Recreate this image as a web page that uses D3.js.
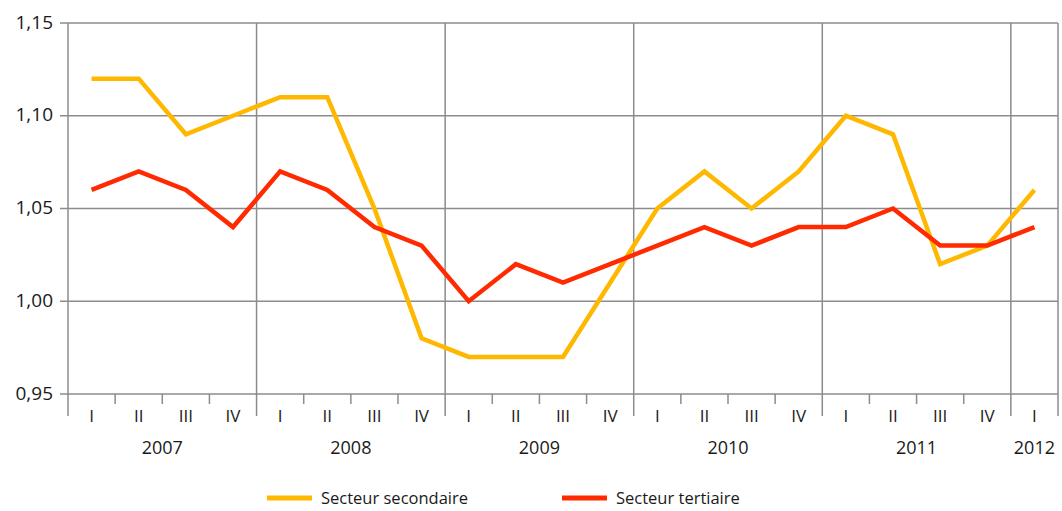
<!DOCTYPE html>
<html>
<head>
<meta charset="utf-8">
<script src="https://cdn.jsdelivr.net/npm/d3@7"></script>
<style>
  body { margin: 0; background: #fff; }
  text { font-family: "Open Sans", "DejaVu Sans", sans-serif; fill: #1a1a1a; }
</style>
</head>
<body>
<div id="chart"></div>
<script>
// Data
const years = ["2007", "2008", "2009", "2010", "2011", "2012"];
const quarters = [
  "2007-I", "2007-II", "2007-III", "2007-IV",
  "2008-I", "2008-II", "2008-III", "2008-IV",
  "2009-I", "2009-II", "2009-III", "2009-IV",
  "2010-I", "2010-II", "2010-III", "2010-IV",
  "2011-I", "2011-II", "2011-III", "2011-IV",
  "2012-I"
];
const secondaire = [1.12, 1.12, 1.09, 1.10, 1.11, 1.11, 1.05, 0.98,
                    0.97, 0.97, 0.97, 1.01, 1.05, 1.07, 1.05, 1.07,
                    1.10, 1.09, 1.02, 1.03, 1.06];
const tertiaire = [1.06, 1.07, 1.06, 1.04, 1.07, 1.06, 1.04, 1.03,
                   1.00, 1.02, 1.01, 1.02, 1.03, 1.04, 1.03, 1.04,
                   1.04, 1.05, 1.03, 1.03, 1.04];
const yTicks = [0.95, 1.00, 1.05, 1.10, 1.15];
const seriesNames = ["Secteur secondaire", "Secteur tertiaire"];
const colors = ["#FFB800", "#FF2A00"];

const W = 1062, H = 511;
const plot = { left: 68, right: 1058, top: 23, bottom: 394 };
const gridColor = "#8c8c8c";

const svg = d3.select("#chart").append("svg")
    .attr("width", W)
    .attr("height", H);

const x = d3.scaleBand().domain(quarters).range([plot.left, plot.right]).padding(0);
const y = d3.scaleLinear().domain([0.95, 1.15]).range([plot.bottom, plot.top]);
const fmt = v => d3.format(".2f")(v).replace(".", ",");

// Horizontal grid lines + y labels
svg.append("g").selectAll("line").data(yTicks).join("line")
    .attr("x1", plot.left - 8).attr("x2", plot.right)
    .attr("y1", d => y(d)).attr("y2", d => y(d))
    .attr("stroke", gridColor).attr("stroke-width", 1.5);

svg.append("g").selectAll("text").data(yTicks).join("text")
    .attr("x", 53).attr("y", d => y(d))
    .attr("dy", "0.3em")
    .attr("text-anchor", "end")
    .style("font-size", "19px")
    .text(fmt);

// Vertical year separators (extend below axis)
const yearStarts = years.map(yr => x(yr + "-I"));
yearStarts.push(plot.right);
svg.append("g").selectAll("line").data(yearStarts).join("line")
    .attr("x1", d => d).attr("x2", d => d)
    .attr("y1", plot.top).attr("y2", plot.bottom + 22)
    .attr("stroke", gridColor).attr("stroke-width", 1.5);

// Minor quarter ticks
const minor = quarters.filter(q => !q.endsWith("-I")).map(q => x(q));
svg.append("g").selectAll("line").data(minor).join("line")
    .attr("x1", d => d).attr("x2", d => d)
    .attr("y1", plot.bottom).attr("y2", plot.bottom + 10)
    .attr("stroke", gridColor).attr("stroke-width", 1.5);

// Quarter labels
svg.append("g").selectAll("text").data(quarters).join("text")
    .attr("x", d => x(d) + x.bandwidth() / 2)
    .attr("y", 422)
    .attr("text-anchor", "middle")
    .style("font-size", "17px")
    .text(d => d.split("-")[1]);

// Year labels
svg.append("g").selectAll("text").data(years).join("text")
    .attr("x", yr => {
      const qs = quarters.filter(q => q.startsWith(yr));
      return (x(qs[0]) + x(qs[qs.length - 1]) + x.bandwidth()) / 2;
    })
    .attr("y", 454)
    .attr("text-anchor", "middle")
    .style("font-size", "18px")
    .text(d => d);

// Lines
const line = d3.line()
    .x((d, i) => x(quarters[i]) + x.bandwidth() / 2)
    .y(d => y(d));

[secondaire, tertiaire].forEach((s, i) => {
  svg.append("path")
      .datum(s)
      .attr("fill", "none")
      .attr("stroke", colors[i])
      .attr("stroke-width", 4.5)
      .attr("stroke-linejoin", "miter")
      .attr("d", line);
});

// Legend
const legendX = [267, 562];
const lg = svg.append("g").selectAll("g").data(seriesNames).join("g")
    .attr("transform", (d, i) => `translate(${legendX[i]},498)`);
lg.append("line")
    .attr("x1", 0).attr("x2", 45)
    .attr("stroke", (d, i) => colors[i])
    .attr("stroke-width", 5);
lg.append("text")
    .attr("x", 54).attr("dy", "0.35em")
    .style("font-size", "16.5px")
    .text(d => d);
</script>
</body>
</html>
